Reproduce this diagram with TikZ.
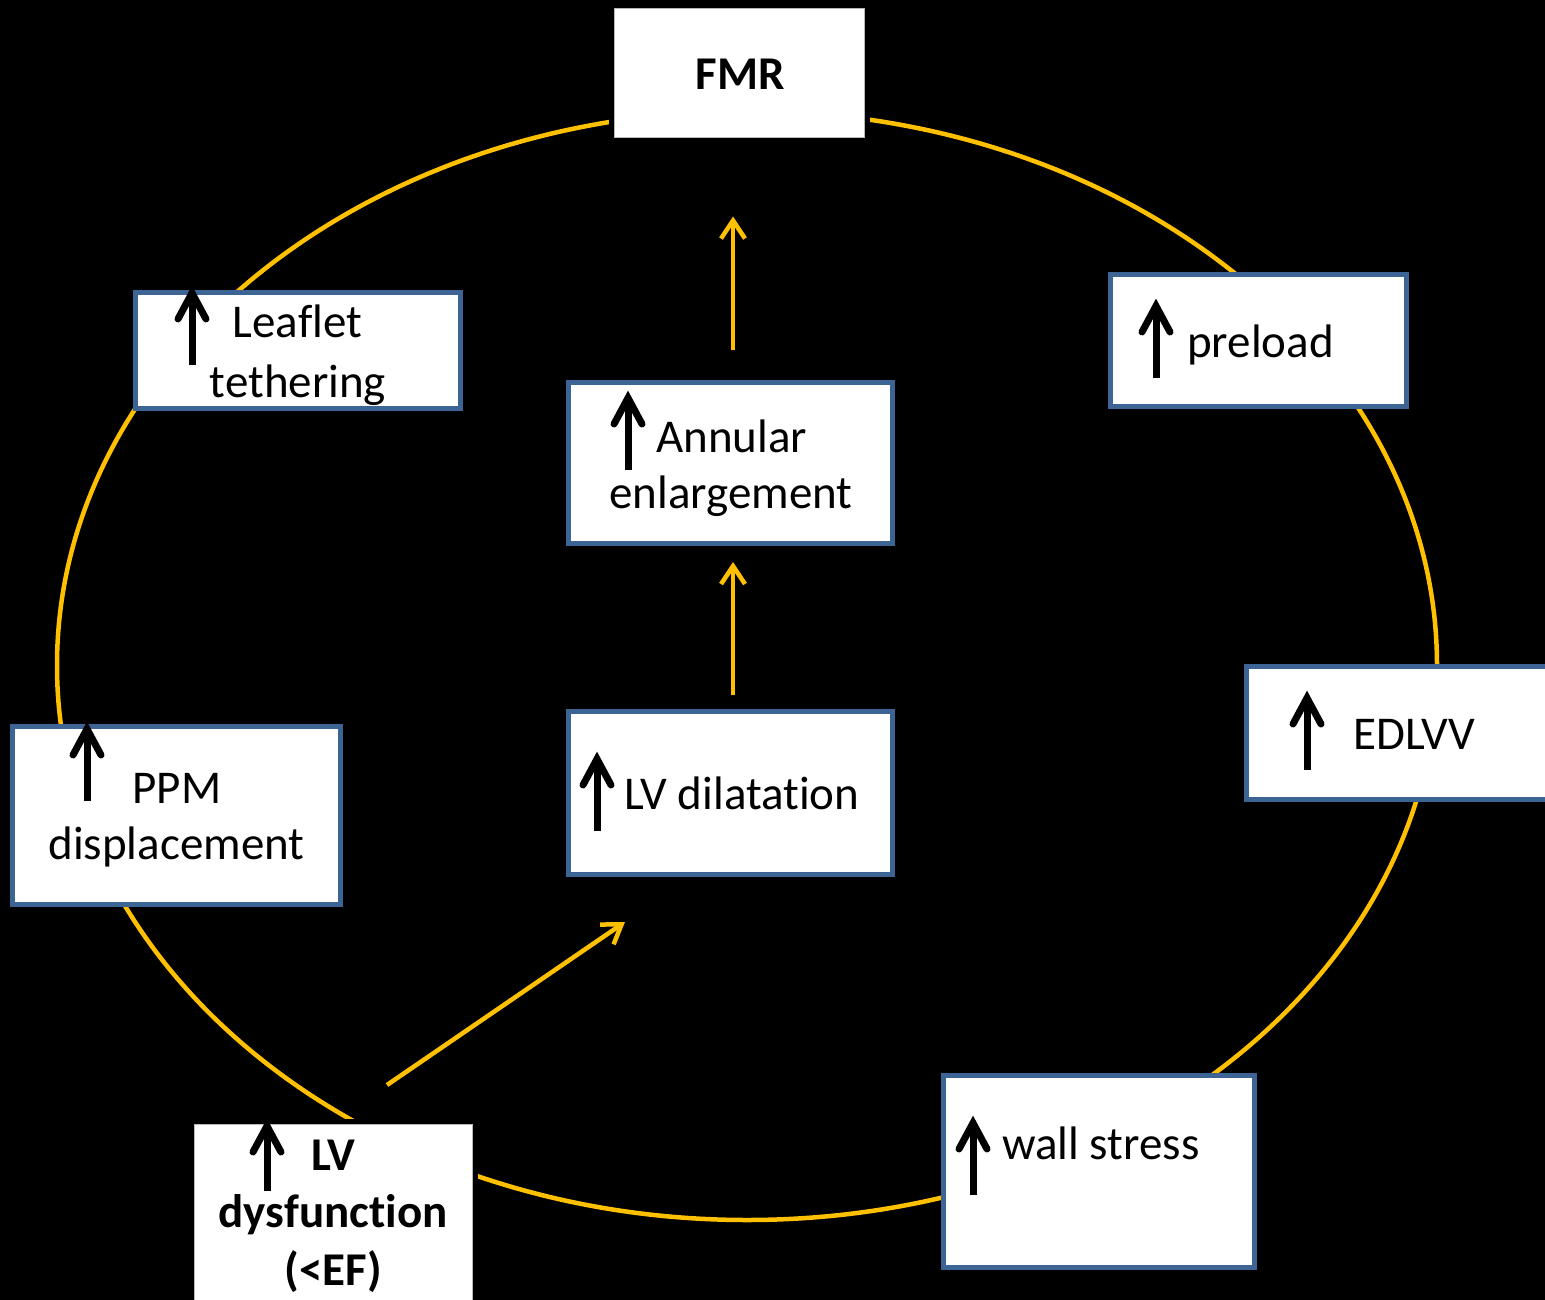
\documentclass[tikz,border=0pt]{standalone}
\usepackage{fontspec}
\setmainfont{Carlito}[Ligatures=NoCommon]
\usetikzlibrary{arrows.meta}
\definecolor{gold}{HTML}{FFC000}
\definecolor{boxblue}{HTML}{3C6494}
\newcommand{\upmark}[3]{%
  \draw[tick] (#1,{#2+#3}) -- (#1,{#2+3});
  \draw[tick, line cap=round, line join=miter] ({#1-14},{#2+27}) -- (#1,{#2+1}) -- ({#1+14},{#2+27});
}
\tikzset{
  box/.style={rectangle, draw=boxblue, line width=5pt, fill=white, inner sep=0pt},
  gapbox/.style={rectangle, fill=white, draw=gray!55, line width=1pt, inner sep=0pt,
    preaction={draw=black, line width=11pt}},
  txt/.style={inner sep=0pt, font=\fontsize{47}{58}\selectfont, text=black},
  btxt/.style={txt, font=\fontsize{47}{58}\selectfont\bfseries},
  ring/.style={draw=gold, line width=4.5pt},
  flow/.style={draw=gold, line width=4.5pt, -{Straight Barb[length=18pt, width=24pt, line width=4.5pt]}},
  tick/.style={draw=black, line width=7pt}
}
\begin{document}
\begin{tikzpicture}[x=1pt, y=-1pt]
\useasboundingbox (0,0) rectangle (1545,1300);
\fill[black] (0,0) rectangle (1545,1300);

% cycle ellipse
\draw[ring] (747,665.5) ellipse [x radius=690, y radius=554.5];

% boxes
\node[gapbox, minimum width=250pt, minimum height=129pt] (fmr) at (739,73.5) {};
\node[box, minimum width=325pt, minimum height=116pt] (leaf) at (298,350.5) {};
\node[box, minimum width=324pt, minimum height=161pt] (ann) at (730.5,463) {};
\node[box, minimum width=296pt, minimum height=132pt] (pre) at (1258.5,340.5) {};
\node[box, minimum width=311pt, minimum height=133pt] (edl) at (1402,733) {};
\node[box, minimum width=328pt, minimum height=178pt] (ppm) at (176.5,815.5) {};
\node[box, minimum width=324pt, minimum height=163pt] (dil) at (730.5,793) {};
\node[box, minimum width=311pt, minimum height=192pt] (wal) at (1099,1171.5) {};
\node[gapbox, minimum width=278pt, minimum height=190pt] (dys) at (333,1219) {};

% texts
\node[btxt, anchor=base] (tfmr) at (740,90) {FMR};
\node[txt, anchor=base] (tleafa) at (297.5,337) {Leaflet};
\node[txt, anchor=base] (tleafb) at (298,397) {tethering};
\node[txt, anchor=base west] (tanna) at (656,452) {Annular};
\node[txt, anchor=base] (tannb) at (731,508) {enlargement};
\node[txt, anchor=base west] (tpre) at (1187,357) {preload};
\node[txt, anchor=base west] (tedl) at (1353,749) {EDLVV};
\node[txt, anchor=base] (tppma) at (177,803) {PPM};
\node[txt, anchor=base] (tppmb) at (176.5,859) {displacement};
\node[txt, anchor=base west] (tdil) at (624,809) {LV dilatation};
\node[txt, anchor=base west] (twal) at (1002,1159) {wall stress};
\node[btxt, anchor=base] (tdysa) at (333,1170) {LV};
\node[btxt, anchor=base] (tdysb) at (333,1227) {dysfunction};
\node[btxt, anchor=base] (tdysc) at (333.5,1285) {(<EF)};

% up marks
\upmark{192}{292}{73}
\upmark{628}{397}{73}
\upmark{1156}{305}{73}
\upmark{1307}{697}{73}
\upmark{87}{728}{73}
\upmark{597}{758}{73}
\upmark{973}{1122}{73}
\upmark{267}{1125}{66}

% flow arrows
\coordinate (d1) at (387,1085);
\coordinate (d2) at (625,922);
\draw[flow] (d1) -- (d2);
\draw[flow, shorten <=14pt, shorten >=16pt] (dil.north -| 733,0) -- (ann.south -| 733,0);
\draw[flow, shorten <=30pt, shorten >=78pt] (ann.north -| 733,0) -- (fmr.south -| 733,0);
\end{tikzpicture}
\end{document}
